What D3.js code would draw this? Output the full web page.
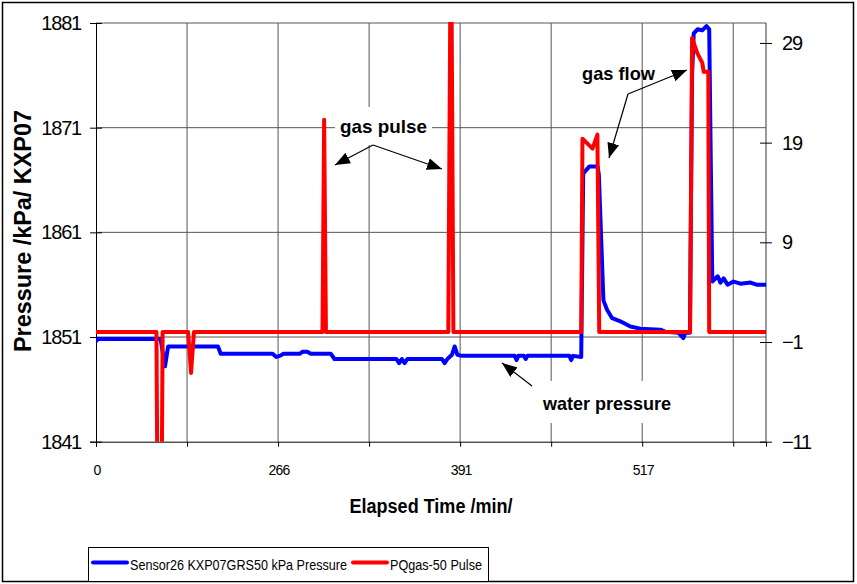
<!DOCTYPE html>
<html>
<head>
<meta charset="utf-8">
<script src="https://cdn.jsdelivr.net/npm/d3@7"></script>
<style>
  body { margin: 0; background: #fff; }
  svg { display: block; font-family: "Liberation Sans", Arial, sans-serif; }
</style>
</head>
<body>
<svg id="chart" width="857" height="584"></svg>
<script>
// ---------- data (x = sample index along the category axis) ----------
const xGridSteps = [0, 50, 100, 150, 200, 250, 300, 350];
const xLabelAt = [0, 100, 200, 300];
const xLabelText = ['0', '266', '391', '517'];
const leftTicks = [1841, 1851, 1861, 1871, 1881];
const rightTicks = [-11, -1, 9, 19, 29];

// Sensor26 KXP07GRS50 kPa Pressure (left axis)
const pressureIdx = [0, 1, 33, 35.5, 37.9, 39.6, 67, 68.5, 97, 99, 101, 103, 112, 113.5, 116, 118, 129, 131,
  165, 166.5, 168, 169.5, 171, 190, 191.5, 193, 195.5, 197, 198.5, 201, 230, 231, 232, 235, 236, 237,
  260, 261, 262, 266.5, 267.6, 269, 271, 275.5, 276.2, 278.7, 280.7, 283.5, 288, 293.5, 299, 310, 312.8,
  320, 322.6, 323.7, 326.2, 327.4, 328.3, 330.4, 333, 335.3, 336.8, 337.8, 338.5, 341.5, 343, 344.7,
  346.9, 350.2, 354, 359.5, 362.8, 368];
const pressureVal = [1850.6, 1850.8, 1850.8, 1850.8, 1848.2, 1850.1, 1850.1, 1849.4, 1849.4, 1849.1, 1849.2, 1849.4, 1849.4, 1849.6, 1849.6, 1849.4, 1849.4, 1848.9,
  1848.9, 1848.5, 1848.9, 1848.5, 1848.9, 1848.9, 1848.5, 1848.9, 1849.3, 1850.1, 1849.3, 1849.2, 1849.2, 1848.8, 1849.2, 1849.2, 1848.9, 1849.2,
  1849.2, 1848.8, 1849.2, 1849.1, 1866.6, 1866.9, 1867.3, 1867.3, 1866.5, 1854.5, 1853.6, 1852.8, 1852.5, 1852.0, 1851.8, 1851.7, 1851.5,
  1851.4, 1850.9, 1851.4, 1851.4, 1876.0, 1880.0, 1880.4, 1880.3, 1880.7, 1880.4, 1866.0, 1856.3, 1856.8, 1856.2, 1856.6,
  1856.0, 1856.3, 1856.1, 1856.2, 1856.0, 1856.0];

// PQgas-50 Pulse (right axis)
const pulseIdx = [0, 33.2, 33.6, 36.2, 36.6, 50.6, 52.2, 53.8, 124.4, 125.3, 126.3, 193.5, 194.6, 195.3, 196.3,
  266.5, 267.2, 272.7, 275.4, 276.4, 326.3, 327.4, 330.2, 333, 333.8, 336.3, 336.8, 368];
const pulseVal = [0, 0, -12, -12, 0, 0, -4.1, 0, 0, 21.3, 0, 0, 33, 33, 0,
  0, 19.4, 18.4, 19.8, 0, 0, 29.5, 28.0, 27.0, 26.1, 26.1, 0, 0];

const pressure = pressureIdx.map((x, i) => ({ x, y: pressureVal[i] }));
const pulse = pulseIdx.map((x, i) => ({ x, y: pulseVal[i] }));

// ---------- layout ----------
const W = 857, H = 584;
const margin = { top: 23, right: 91, bottom: 142.3, left: 96 };
const plotW = W - margin.left - margin.right;
const plotH = H - margin.top - margin.bottom;
const GRID = '#555';

const svg = d3.select('#chart');

svg.append('rect').attr('x', 2.5).attr('y', 2.5).attr('width', 851).attr('height', 579)
  .attr('fill', '#fff').attr('stroke', '#000').attr('stroke-width', 1.5);

const x = d3.scaleLinear().domain([0, 368]).range([0, plotW]);
const yL = d3.scaleLinear().domain([1841, 1881]).range([plotH, 0]);
const yR = d3.scaleLinear().domain([-11, 31]).range([plotH, 0]);

const g = svg.append('g').attr('transform', `translate(${margin.left},${margin.top})`);

g.append('defs').append('clipPath').attr('id', 'plotClip')
  .append('rect').attr('x', 0).attr('y', -1).attr('width', plotW).attr('height', plotH + 1);

// ---------- gridlines ----------
g.append('g').selectAll('line').data(leftTicks.slice(1)).join('line')
  .attr('x1', 0).attr('x2', plotW)
  .attr('y1', d => yL(d)).attr('y2', d => yL(d))
  .attr('stroke', GRID).attr('stroke-width', 1);

g.append('g').selectAll('line').data(xGridSteps.slice(1)).join('line')
  .attr('x1', d => x(d)).attr('x2', d => x(d))
  .attr('y1', 0).attr('y2', plotH)
  .attr('stroke', GRID).attr('stroke-width', 1);

g.append('line').attr('x1', plotW).attr('x2', plotW).attr('y1', 0).attr('y2', plotH)
  .attr('stroke', GRID).attr('stroke-width', 1.2);

// ---------- axes ----------
const leftAxis = g.append('g').call(
  d3.axisLeft(yL).tickValues(leftTicks).tickSize(6).tickPadding(9).tickFormat(d3.format('d')));
leftAxis.select('.domain').attr('stroke', '#000');
leftAxis.selectAll('.tick line').attr('x1', 6).attr('x2', -6);
leftAxis.selectAll('text').attr('font-size', 20).attr('letter-spacing', -1.2)
  .attr('font-family', '"Liberation Sans", Arial, sans-serif').attr('fill', '#000');

const rightAxis = g.append('g').attr('transform', `translate(${plotW},0)`).call(
  d3.axisRight(yR).tickValues(rightTicks).tickSize(6).tickPadding(10));
rightAxis.select('.domain').remove();
rightAxis.selectAll('.tick line').attr('x1', -6).attr('x2', 6);
rightAxis.selectAll('text').attr('font-size', 20).attr('letter-spacing', -1.2)
  .attr('font-family', '"Liberation Sans", Arial, sans-serif').attr('fill', '#000');

const bottomAxis = g.append('g').attr('transform', `translate(0,${plotH})`).call(
  d3.axisBottom(x).tickValues(xGridSteps).tickSize(5).tickFormat(''));
bottomAxis.select('.domain').attr('stroke', '#000');

g.append('g').selectAll('text').data(xLabelAt).join('text')
  .attr('x', d => x(d) + 1).attr('y', plotH + 33)
  .attr('text-anchor', 'middle').attr('font-size', 14).attr('letter-spacing', -0.8)
  .text((d, i) => xLabelText[i]);

// ---------- series ----------
const lineL = d3.line().x(d => x(d.x)).y(d => yL(d.y));
const lineR = d3.line().x(d => x(d.x)).y(d => yR(d.y));

const series = g.append('g').attr('clip-path', 'url(#plotClip)');
series.append('path').datum(pressure).attr('d', lineL)
  .attr('fill', 'none').attr('stroke', '#0000ff').attr('stroke-width', 4)
  .attr('stroke-linejoin', 'round').attr('stroke-linecap', 'round');
series.append('path').datum(pulse).attr('d', lineR)
  .attr('fill', 'none').attr('stroke', '#ff0000').attr('stroke-width', 4)
  .attr('stroke-linejoin', 'round').attr('stroke-linecap', 'round');

// ---------- axis titles ----------
svg.append('text').attr('transform', 'translate(31,231) rotate(-90)')
  .attr('text-anchor', 'middle').attr('font-size', 24).attr('font-weight', 'bold')
  .attr('textLength', 242).attr('lengthAdjust', 'spacingAndGlyphs')
  .text('Pressure /kPa/ KXP07');

svg.append('text').attr('x', 431).attr('y', 513)
  .attr('text-anchor', 'middle').attr('font-size', 20).attr('font-weight', 'bold')
  .attr('textLength', 163).attr('lengthAdjust', 'spacingAndGlyphs')
  .text('Elapsed Time /min/');

// ---------- annotations ----------
svg.append('defs').append('marker')
  .attr('id', 'arrowHead').attr('viewBox', '0 0 15 12')
  .attr('refX', 15).attr('refY', 6)
  .attr('markerWidth', 15).attr('markerHeight', 12)
  .attr('markerUnits', 'userSpaceOnUse').attr('orient', 'auto')
  .append('path').attr('d', 'M0,0 L15,6 L0,12 Z').attr('fill', '#000');

const notes = [
  { text: 'gas pulse', x: 340, y: 133, len: 87, box: [335, 107, 97, 38] },
  { text: 'gas flow', x: 582, y: 80, len: 73, box: null },
  { text: 'water pressure', x: 543, y: 410, len: 128, box: [540, 381, 136, 42] }
];
const arrows = [
  [373, 145, 335, 165],
  [373, 145, 442, 169],
  [628, 94, 609, 158],
  [628, 94, 687, 70],
  [532, 386, 502, 363]
];

const ann = svg.append('g');
notes.filter(n => n.box).forEach(n => {
  ann.append('rect').attr('x', n.box[0]).attr('y', n.box[1])
    .attr('width', n.box[2]).attr('height', n.box[3]).attr('fill', '#fff');
});
notes.forEach(n => {
  ann.append('text').attr('x', n.x).attr('y', n.y)
    .attr('font-size', 19).attr('font-weight', 'bold')
    .attr('textLength', n.len).attr('lengthAdjust', 'spacingAndGlyphs')
    .text(n.text);
});
ann.selectAll('line').data(arrows).join('line')
  .attr('x1', d => d[0]).attr('y1', d => d[1])
  .attr('x2', d => d[2]).attr('y2', d => d[3])
  .attr('stroke', '#000').attr('stroke-width', 1.2)
  .attr('marker-end', 'url(#arrowHead)');

// ---------- legend ----------
const legend = svg.append('g');
legend.append('rect').attr('x', 88.5).attr('y', 547.5).attr('width', 400).attr('height', 34)
  .attr('fill', '#fff').attr('stroke', '#000').attr('stroke-width', 1);
const legendItems = [
  { name: 'Sensor26 KXP07GRS50 kPa Pressure', color: '#0000ff', x: 93, len: 217 },
  { name: 'PQgas-50 Pulse', color: '#ff0000', x: 353, len: 92 }
];
legendItems.forEach(it => {
  legend.append('line').attr('x1', it.x).attr('x2', it.x + 34).attr('y1', 562.5).attr('y2', 562.5)
    .attr('stroke', it.color).attr('stroke-width', 4).attr('stroke-linecap', 'round');
  legend.append('text').attr('x', it.x + 37).attr('y', 569.5)
    .attr('font-size', 14).attr('textLength', it.len).attr('lengthAdjust', 'spacingAndGlyphs')
    .text(it.name);
});
</script>
</body>
</html>
